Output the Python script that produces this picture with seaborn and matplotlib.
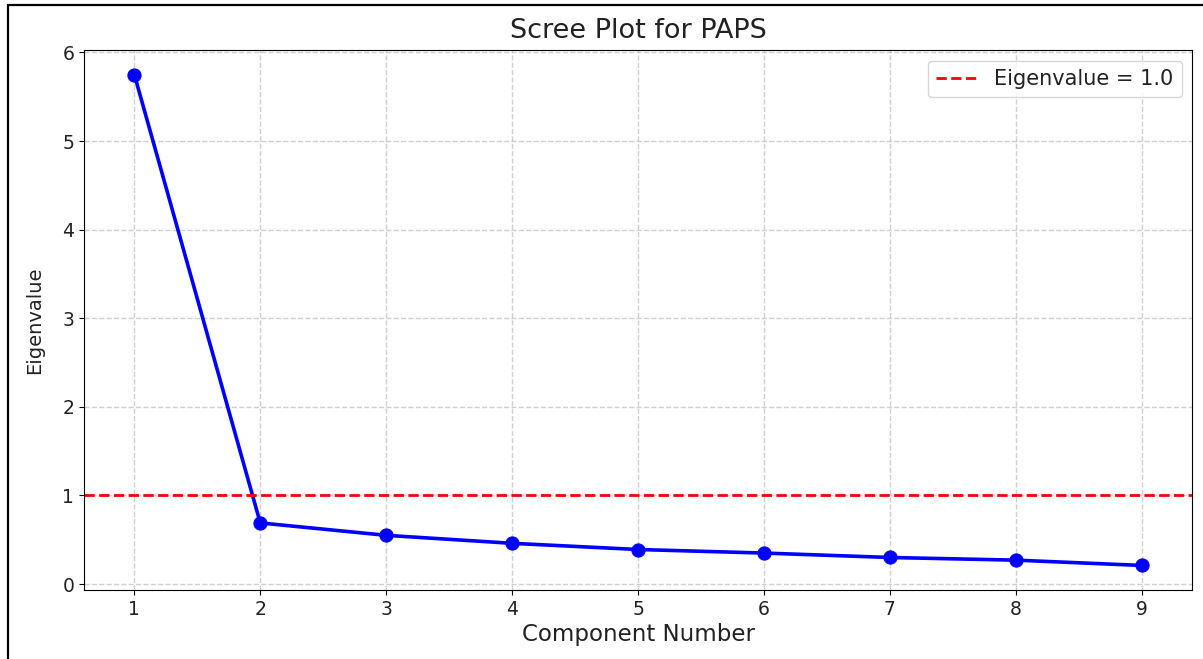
import seaborn as sns
import matplotlib.pyplot as plt
from matplotlib.patches import Rectangle

# datos del scree plot
components = [1, 2, 3, 4, 5, 6, 7, 8, 9]
eigenvalues = [5.75, 0.69, 0.55, 0.46, 0.39, 0.35, 0.30, 0.27, 0.21]
threshold = 1.0

fig = plt.figure(figsize=(12.03, 6.59), dpi=100)
ax = fig.add_axes([0.0698, 0.1047, 0.9212, 0.8193])

sns.lineplot(x=components, y=eigenvalues, marker='o', color='blue',
             linewidth=2.6, markersize=9.5, markeredgecolor='blue', ax=ax)
ax.axhline(threshold, color='red', linestyle='--', linewidth=2,
           label=f'Eigenvalue = {threshold}')

ax.set_title('Scree Plot for PAPS', fontsize=19.5, color='#222222', pad=9)
ax.set_xlabel('Component Number', fontsize=16.5, color='#222222', labelpad=3)
ax.set_ylabel('Eigenvalue', fontsize=14, color='#222222', labelpad=13)
ax.set_xticks(components)
ax.tick_params(labelsize=13.5, labelcolor='#222222')
ax.grid(True, linestyle='--', alpha=0.6, linewidth=1)
leg = ax.legend(loc='upper right', fontsize=15)
for t in leg.get_texts():
    t.set_color('#222222')

# marco de la captura
fig.add_artist(Rectangle((8 / 1203, -0.1), 1.2, 1.1 - 5 / 659,
                         transform=fig.transFigure, fill=False,
                         edgecolor='black', linewidth=1.6))

fig.savefig('out.png', dpi=100)
